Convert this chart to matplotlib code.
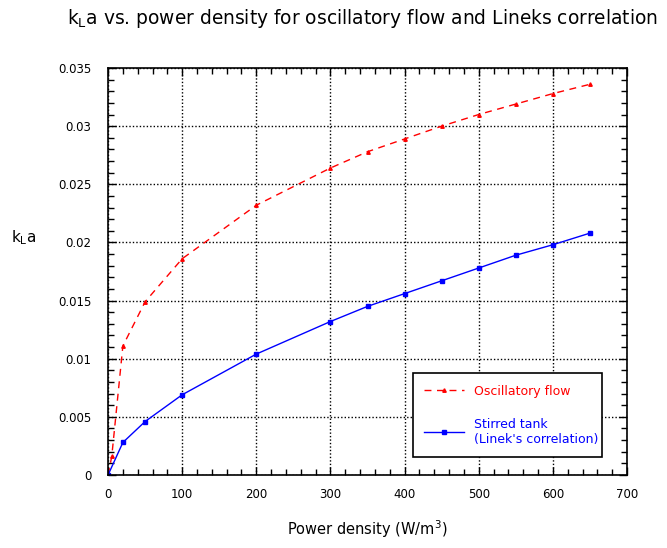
import numpy as np
import matplotlib.pyplot as plt
from matplotlib.ticker import MultipleLocator, FuncFormatter

# Dados
potencia_osc = [0, 5, 20, 50, 100, 200, 300, 350, 400, 450, 500, 550, 600, 650]
kla_osc = [0, 0.0016, 0.0111, 0.0149, 0.0186, 0.0232, 0.0264, 0.0278, 0.0289,
           0.0300, 0.0310, 0.0319, 0.0328, 0.0336]

potencia_agit = [0, 20, 50, 100, 200, 300, 350, 400, 450, 500, 550, 600, 650]
kla_agit = [0, 0.0028, 0.0046, 0.0069, 0.0104, 0.0132, 0.0145, 0.0156, 0.0167,
            0.0178, 0.0189, 0.0198, 0.0208]

fig = plt.figure(figsize=(6.67, 5.48), dpi=100)
ax = fig.add_axes([0.162, 0.1332, 0.778, 0.7427])

ax.plot(potencia_osc, kla_osc, color='red', linestyle=(0, (5, 4)), linewidth=1,
        marker='^', markersize=2.5, label='Oscillatory flow')
ax.plot(potencia_agit, kla_agit, color='blue', linewidth=1,
        marker='s', markersize=3, label="Stirred tank\n(Linek's correlation)")

ax.set_xlim(0, 700)
ax.set_ylim(0, 0.035)
ax.xaxis.set_major_locator(MultipleLocator(100))
ax.xaxis.set_minor_locator(MultipleLocator(20))
ax.yaxis.set_major_locator(MultipleLocator(0.005))
ax.yaxis.set_minor_locator(MultipleLocator(0.001))
ax.yaxis.set_major_formatter(FuncFormatter(lambda v, p: '0' if v == 0 else f'{v:g}'))

ax.tick_params(which='both', direction='in', top=True, right=True, labelsize=8.5)
ax.tick_params(which='major', length=6, width=1)
ax.tick_params(which='minor', length=4, width=1)
ax.tick_params(axis='x', pad=9)
ax.tick_params(axis='y', pad=12)
for s in ax.spines.values():
    s.set_linewidth(1.2)

ax.grid(True, which='major', linestyle=(0, (1, 1.5)), color='black', linewidth=1)

ax.set_title(r'k$_\mathregular{L}$a vs. power density for oscillatory flow and Lineks correlation',
             fontsize=13.4, pad=32, x=0.49)
ax.set_xlabel(r'Power density (W/m$^\mathregular{3}$)', fontsize=10.5, labelpad=13)
ax.set_ylabel(r'k$_\mathregular{L}$a', fontsize=11, rotation=0)
ax.yaxis.set_label_coords(-0.162, 0.56)

leg = ax.legend(loc='lower left', bbox_to_anchor=(0.576, 0.029, 0.387, 0.214),
                mode='expand', fancybox=False, framealpha=1, edgecolor='black',
                fontsize=9, labelspacing=1.6, handlelength=3.2, borderpad=0.9)
leg.get_frame().set_linewidth(1.2)
for txt, cor in zip(leg.get_texts(), ['red', 'blue']):
    txt.set_color(cor)

plt.savefig('out.png', dpi=100)
